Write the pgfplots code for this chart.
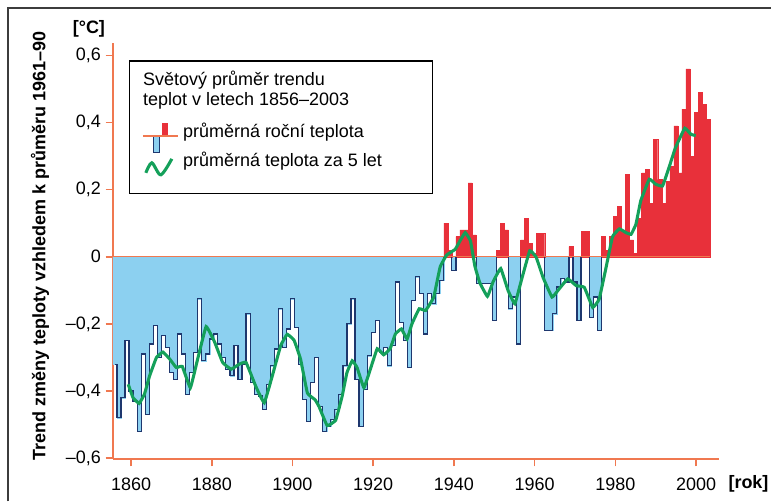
\documentclass[border=0pt]{standalone}
\usepackage{fontspec}
\setmainfont{Liberation Sans}
\usepackage{pgfplots}
\pgfplotsset{compat=1.18}
\usepackage{pgfplotstable}
\definecolor{axor}{RGB}{240,120,80}
\definecolor{barblue}{RGB}{140,208,240}
\definecolor{outblue}{RGB}{30,55,110}
\definecolor{barred}{RGB}{232,48,58}
\definecolor{curvegreen}{RGB}{20,160,90}
\definecolor{framegray}{RGB}{60,60,60}
\newcommand{\ff}{\fontsize{13.5pt}{16pt}\selectfont}

\pgfplotstableread{
year v
1856 -0.32
1857 -0.48
1858 -0.42
1859 -0.25
1860 -0.40
1861 -0.43
1862 -0.52
1863 -0.29
1864 -0.47
1865 -0.26
1866 -0.205
1867 -0.30
1868 -0.235
1869 -0.27
1870 -0.345
1871 -0.365
1872 -0.23
1873 -0.29
1874 -0.41
1875 -0.345
1876 -0.285
1877 -0.125
1878 -0.31
1879 -0.29
1880 -0.245
1881 -0.23
1882 -0.26
1883 -0.30
1884 -0.335
1885 -0.355
1886 -0.265
1887 -0.365
1888 -0.32
1889 -0.17
1890 -0.375
1891 -0.41
1892 -0.415
1893 -0.455
1894 -0.38
1895 -0.325
1896 -0.275
1897 -0.155
1898 -0.27
1899 -0.215
1900 -0.125
1901 -0.21
1902 -0.32
1903 -0.425
1904 -0.49
1905 -0.375
1906 -0.30
1907 -0.445
1908 -0.52
1909 -0.505
1910 -0.485
1911 -0.455
1912 -0.41
1913 -0.325
1914 -0.20
1915 -0.125
1916 -0.365
1917 -0.505
1918 -0.395
1919 -0.295
1920 -0.225
1921 -0.19
1922 -0.285
1923 -0.27
1924 -0.325
1925 -0.265
1926 -0.075
1927 -0.195
1928 -0.25
1929 -0.33
1930 -0.13
1931 -0.06
1932 -0.11
1933 -0.23
1934 -0.11
1935 -0.14
1936 -0.11
1937 -0.07
1938 0.10
1939 0.02
1940 -0.04
1941 0.06
1942 0.08
1943 0.08
1944 0.22
1945 0.065
1946 -0.08
1947 -0.08
1948 -0.08
1949 -0.08
1950 -0.19
1951 0.02
1952 0.10
1953 0.08
1954 -0.155
1955 -0.12
1956 -0.26
1957 0.05
1958 0.115
1959 0.04
1960 0.01
1961 0.07
1962 0.07
1963 -0.22
1964 -0.22
1965 -0.17
1966 -0.09
1967 -0.065
1968 -0.075
1969 0.03
1970 -0.075
1971 -0.19
1972 0.075
1973 0.075
1974 -0.18
1975 -0.12
1976 -0.22
1977 0.06
1978 0.02
1979 0.06
1980 0.12
1981 0.15
1982 0.08
1983 0.245
1984 0.05
1985 0.01
1986 0.115
1987 0.25
1988 0.26
1989 0.16
1990 0.35
1991 0.23
1992 0.16
1993 0.225
1994 0.27
1995 0.39
1996 0.25
1997 0.44
1998 0.56
1999 0.30
2000 0.43
2001 0.49
2002 0.455
2003 0.41
}\annual

\begin{document}
\begin{tikzpicture}
\begin{scope}[x=0.75pt,y=-0.75pt]
\path[use as bounding box] (0,0) rectangle (772,502);
\end{scope}
\begin{axis}[
  at={(84.75pt,-344.7pt)}, anchor=south west,
  scale only axis, width=455.25pt, height=312.45pt,
  xmin=1855.5, xmax=2005.75, ymin=-0.603, ymax=0.637,
  axis lines=left,
  axis line style={-, draw=axor, line width=1.4pt},
  tick style={draw=axor, line width=1.2pt},
  tick align=outside, major tick length=5.5pt,
  xtick={1860,1880,1900,1920,1940,1960,1980,2000},
  xticklabels={1860,1880,1900,1920,1940,1960,1980,2000},
  ytick={-0.6,-0.4,-0.2,0,0.2,0.4,0.6},
  yticklabels={{–0,6},{–0,4},{–0,2},{0},{0,2},{0,4},{0,6}},
  xticklabel style={font=\ff, yshift=-5pt},
  yticklabel style={font=\ff},
  clip=false,
]
% blue (negative) bars
\addplot[ybar, bar width=1, bar shift=0pt, fill=barblue, draw=barblue, line width=0.3pt,
  restrict y to domain=-1:-0.0001] table[x=year,y=v]{\annual};
% red (positive) bars
\addplot[ybar, bar width=1, bar shift=0pt, fill=barred, draw=barred, line width=0.3pt,
  restrict y to domain=0.0001:1] table[x=year,y=v]{\annual};
% outline of negative bars
\addplot[const plot mark mid, draw=outblue, line width=0.9pt, mark=none]
  table[x=year, y expr={min(\thisrow{v},0)}]{\annual};
% zero line
\addplot[draw=axor, line width=1.1pt] coordinates {(1855.5,0) (2003.5,0)};
% 5-year mean
\addplot[smooth, tension=0.17, draw=curvegreen, line width=2.3pt] coordinates {
(1859.3,-0.38) (1860.5,-0.42) (1862.0,-0.437) (1863.3,-0.41) (1864.6,-0.355)
(1866.3,-0.30) (1867.9,-0.284) (1869.6,-0.305) (1871.2,-0.33) (1872.7,-0.327)
(1874.7,-0.39) (1876.5,-0.305) (1878.6,-0.208) (1880.7,-0.254) (1882.7,-0.315)
(1884.8,-0.335) (1886.8,-0.32) (1888.5,-0.315) (1890.9,-0.386) (1893.0,-0.435)
(1895.0,-0.355) (1897.1,-0.264) (1898.7,-0.231) (1900.4,-0.249) (1902.0,-0.305)
(1903.7,-0.406) (1905.6,-0.426) (1906.6,-0.447) (1908.6,-0.503) (1910.7,-0.487)
(1912.3,-0.416) (1913.5,-0.345) (1914.8,-0.31) (1916.0,-0.33) (1917.7,-0.39)
(1919.3,-0.335) (1921.0,-0.274) (1922.6,-0.292) (1924.2,-0.274) (1925.5,-0.23)
(1927.0,-0.215) (1928.4,-0.245) (1929.6,-0.2) (1931.4,-0.155) (1933.0,-0.16)
(1935.0,-0.12) (1936.6,-0.03) (1938.2,0.005) (1940.3,0.022) (1941.5,0.047)
(1942.8,0.072) (1944.1,0.047) (1945.2,-0.028) (1946.4,-0.077) (1948.3,-0.118)
(1949.7,-0.075) (1951.6,-0.035) (1953.4,-0.10) (1955.1,-0.14) (1956.7,-0.071)
(1958.8,0.018) (1960.4,-0.002) (1962.1,-0.062) (1964.3,-0.12) (1965.8,-0.10)
(1968.2,-0.066) (1970.3,-0.086) (1972.3,-0.091) (1974.4,-0.151) (1976.0,-0.126)
(1977.7,-0.032) (1979.3,0.06) (1981.0,0.083) (1982.6,0.072) (1983.9,0.067)
(1985.1,0.097) (1986.3,0.167) (1988.4,0.231) (1990.0,0.216) (1991.7,0.211)
(1993.3,0.266) (1994.9,0.325) (1997.2,0.383) (1998.7,0.365) (1999.9,0.361)
};
\end{axis}
\begin{scope}[x=0.75pt,y=-0.75pt]
% frame
\draw[framegray, line width=1.2pt] (8,502) -- (8,8) -- (772,8);
% axis titles
\node[font=\ff\bfseries, rotate=90] at (40,246) {Trend změny teploty vzhledem k průměru 1961–90};
\node[font=\ff\bfseries] at (89,29) {[°C]};
\node[font=\ff\bfseries, anchor=west, inner sep=0pt] at (729,484) {[rok]};
% legend box
\draw[black, line width=0.9pt, fill=white] (130,61) rectangle (433,194);
\node[font=\ff, anchor=base west, inner sep=0pt] at (143,86) {Světový průměr trendu};
\node[font=\ff, anchor=base west, inner sep=0pt] at (143,106) {teplot v letech 1856–2003};
\fill[barred] (162,123) rectangle (168,136);
\draw[outblue, fill=barblue, line width=0.8pt] (154,136) rectangle (160,153);
\draw[axor, line width=1.2pt] (143,136) -- (178,136);
\node[font=\ff, anchor=base west, inner sep=0pt] at (183,138) {průměrná roční teplota};
\draw[curvegreen, line width=2.3pt] plot[smooth] coordinates {(146,173) (152,163) (161,175) (172,159)};
\node[font=\ff, anchor=base west, inner sep=0pt] at (183,167) {průměrná teplota za 5 let};
\end{scope}
\end{tikzpicture}
\end{document}
